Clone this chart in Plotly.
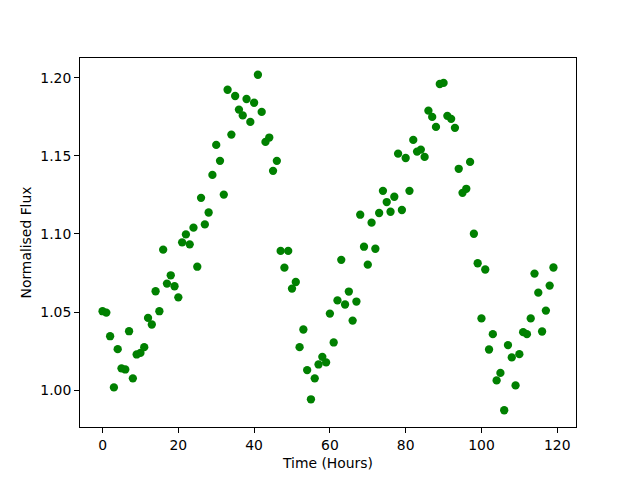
import plotly.graph_objects as go

hours = list(range(120))
flux = [
    1.0505, 1.0496, 1.0345, 1.0017, 1.0262, 1.0139, 1.0132, 1.0377, 1.0075, 1.0228,
    1.0238, 1.0275, 1.0462, 1.0420, 1.0633, 1.0505, 1.0899, 1.0682, 1.0735, 1.0665,
    1.0594, 1.0946, 1.0997, 1.0933, 1.1040, 1.0790, 1.1231, 1.1061, 1.1137, 1.1378,
    1.1570, 1.1468, 1.1252, 1.1923, 1.1636, 1.1883, 1.1796, 1.1759, 1.1864, 1.1717,
    1.1840, 1.2019, 1.1781, 1.1589, 1.1617, 1.1404, 1.1468, 1.0891, 1.0784, 1.0891,
    1.0650, 1.0692, 1.0275, 1.0388, 1.0128, 0.9941, 1.0075, 1.0164, 1.0213, 1.0177,
    1.0490, 1.0305, 1.0574, 1.0834, 1.0548, 1.0631, 1.0445, 1.0567, 1.1123, 1.0918,
    1.0803, 1.1072, 1.0905, 1.1134, 1.1276, 1.1204, 1.1142, 1.1238, 1.1514, 1.1153,
    1.1486, 1.1276, 1.1602, 1.1527, 1.1540, 1.1493, 1.1789, 1.1749, 1.1685, 1.1960,
    1.1967, 1.1756, 1.1737, 1.1679, 1.1417, 1.1263, 1.1289, 1.1461, 1.1001, 1.0812,
    1.0459, 1.0772, 1.0260, 1.0358, 1.0062, 1.0110, 0.9871, 1.0288, 1.0209, 1.0030,
    1.0230, 1.0371, 1.0358, 1.0459, 1.0746, 1.0624, 1.0375, 1.0509, 1.0669, 1.0785,
]
x_ticks = [0, 20, 40, 60, 80, 100, 120]
y_ticks = [1.00, 1.05, 1.10, 1.15, 1.20]

xmin, xmax = min(hours), max(hours)
ymin, ymax = min(flux), max(flux)
xpad = 0.05 * (xmax - xmin)
ypad = 0.05 * (ymax - ymin)

fig = go.Figure(go.Scatter(
    x=hours, y=flux, mode="markers",
    marker=dict(color="#008000", size=8.3, line=dict(width=0)),
))

font = dict(family="DejaVu Sans", size=13.9, color="black")
axis_common = dict(
    showline=True, linecolor="black", linewidth=1.1, mirror=True,
    showgrid=False, zeroline=False, automargin=False,
    ticks="outside", ticklen=4.9, tickwidth=1.1, tickcolor="black",
    tickfont=font,
)
fig.update_xaxes(range=[xmin - xpad, xmax + xpad], tickvals=x_ticks,
                 ticktext=[str(v) for v in x_ticks],
                 title=dict(text="Time (Hours)", font=font, standoff=6),
                 **axis_common)
fig.update_yaxes(range=[ymin - ypad, ymax + ypad], tickvals=y_ticks,
                 ticktext=[f"{v:.2f}" for v in y_ticks],
                 title=dict(text="Normalised Flux", font=font, standoff=5),
                 **axis_common)
# page body has an 8px margin, so the figure is sized/offset to compensate
fig.update_layout(
    width=624, height=464,
    margin=dict(l=72, r=56, t=50, b=45, pad=0),
    plot_bgcolor="white", paper_bgcolor="white",
    showlegend=False, font=font,
)
fig.write_html("out.html")
